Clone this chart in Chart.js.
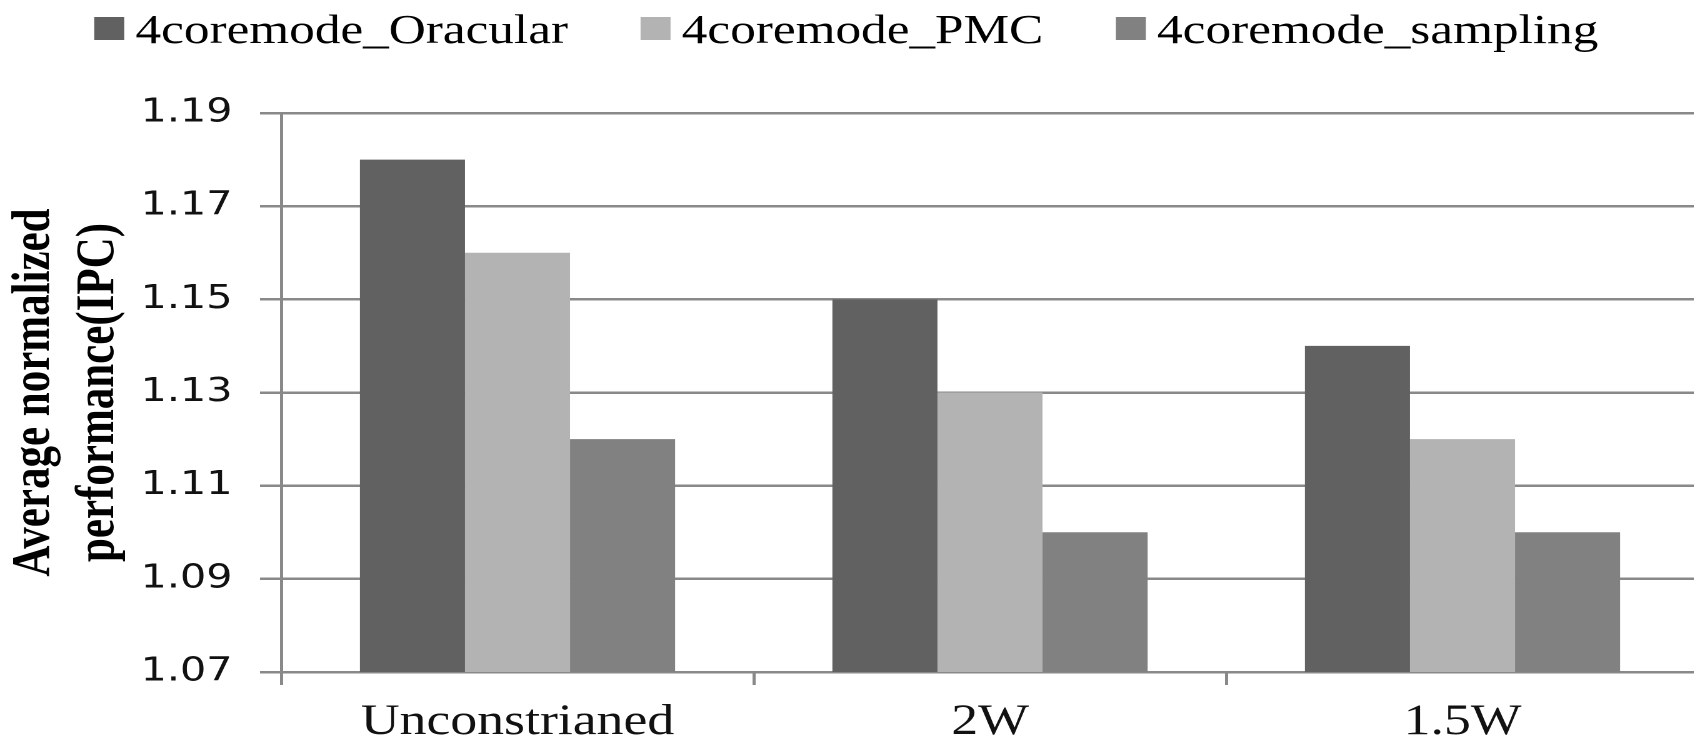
<!DOCTYPE html>
<html>
<head>
<meta charset="utf-8">
<script src="https://cdn.jsdelivr.net/npm/chart.js@4/dist/chart.umd.min.js"></script>
<style>
  html, body { margin: 0; padding: 0; background: #ffffff; overflow: hidden; width: 1694px; height: 741px; }
  #wrap { position: absolute; left: 0; top: 0; width: 1360px; height: 741px; transform: scaleX(1.25); transform-origin: 0 0; }
</style>
</head>
<body>
<div id="wrap"><canvas id="c"></canvas></div>
<script>
// ---- data ----
const categories = ['Unconstrianed', '2W', '1.5W'];
const seriesNames = ['4coremode_Oracular', '4coremode_PMC', '4coremode_sampling'];
const oracular = [1.18, 1.15, 1.14];
const pmc = [1.16, 1.13, 1.12];
const sampling = [1.12, 1.10, 1.10];
const yTitle = ['Average normalized', 'performance(IPC)'];
const yMin = 1.07, yMax = 1.19, yStep = 0.02;

// ---- styles ----
const colors = ['#616161', '#b3b3b3', '#818181'];
const gridColor = '#898989';

const legendPlugin = {
  id: 'refLegend',
  afterDraw(chart) {
    const ctx = chart.ctx;
    const boxW = 24, boxH = 23, gap = 9, spacing = 58, center = 677, boxTop = 17, baseline = 43;
    ctx.save();
    ctx.font = '41px "Liberation Serif"';
    ctx.textBaseline = 'alphabetic';
    ctx.textAlign = 'left';
    const items = chart.data.datasets.map(d => ({ label: d.label, color: d.backgroundColor, w: ctx.measureText(d.label).width }));
    const total = items.reduce((s, it) => s + boxW + gap + it.w, 0) + spacing * (items.length - 1);
    let x = center - total / 2;
    items.forEach(it => {
      ctx.fillStyle = it.color;
      ctx.fillRect(x, boxTop, boxW, boxH);
      ctx.fillStyle = '#000000';
      ctx.fillText(it.label, x + boxW + gap, baseline);
      x += boxW + gap + it.w + spacing;
    });
    ctx.restore();
  }
};

new Chart(document.getElementById('c'), {
  type: 'bar',
  data: {
    labels: categories,
    datasets: [
      { label: seriesNames[0], data: oracular, backgroundColor: colors[0] },
      { label: seriesNames[1], data: pmc, backgroundColor: colors[1] },
      { label: seriesNames[2], data: sampling, backgroundColor: colors[2] }
    ]
  },
  options: {
    responsive: true,
    maintainAspectRatio: false,
    animation: false,
    devicePixelRatio: 2,
    layout: { padding: { top: 113, right: 1, bottom: 0, left: 0 } },
    datasets: { bar: { categoryPercentage: 0.667, barPercentage: 1.0, borderWidth: 0 } },
    plugins: {
      legend: { display: false },
      tooltip: { enabled: false }
    },
    scales: {
      x: {
        offset: true,
        grid: { display: true, drawOnChartArea: false, drawTicks: true, tickLength: 13, color: gridColor, lineWidth: 2.5, offset: true },
        border: { display: true, color: gridColor, width: 2.5 },
        ticks: { color: '#111111', padding: 12, font: { family: '"Liberation Serif"', size: 43, lineHeight: 1.2 }, maxRotation: 0, autoSkip: false },
        afterFit(scale) { scale.height = 69; }
      },
      y: {
        min: yMin,
        max: yMax,
        grid: { color: gridColor, lineWidth: 2.5, tickLength: 17, drawTicks: true },
        border: { display: true, color: gridColor, width: 2.5 },
        ticks: {
          stepSize: yStep,
          padding: 22,
          color: '#111111',
          font: { family: '"DejaVu Sans"', size: 33 },
          callback: v => Number(v).toFixed(2)
        },
        title: {
          display: true,
          text: yTitle,
          color: '#000000',
          font: { family: '"Liberation Serif"', size: 43, weight: 'bold', lineHeight: 1.2 },
          padding: { top: 2, bottom: 0 }
        },
        afterFit(scale) { scale.width = 225; }
      }
    }
  },
  plugins: [legendPlugin]
});
</script>
</body>
</html>
